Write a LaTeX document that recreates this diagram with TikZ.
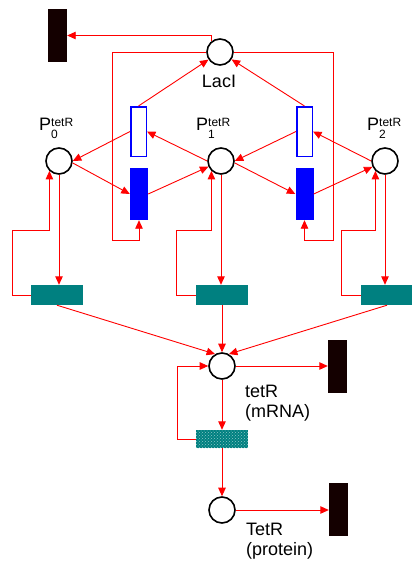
\documentclass[tikz,border=0pt]{standalone}
\usepackage{fontspec}
\setmainfont{Liberation Sans}
\usepackage{tikz}
\usetikzlibrary{arrows.meta, positioning, patterns}

\newcommand{\tetplace}[1]{P\rlap{\raisebox{-8pt}{\fontsize{12}{12}\selectfont #1}}\raisebox{3.5pt}{\fontsize{12}{12}\selectfont tetR}}

\tikzset{
  place/.style={circle, draw=black, line width=1.6pt, fill=white, minimum size=26pt, inner sep=0pt},
  sink/.style={rectangle, fill=black!92!red, minimum width=19pt, minimum height=53pt, inner sep=0pt},
  unbind/.style={rectangle, draw=blue, line width=1.5pt, fill=white, minimum width=15.5pt, minimum height=49.5pt, inner sep=0pt},
  bind/.style={rectangle, fill=blue, minimum width=18pt, minimum height=52pt, inner sep=0pt},
  expr/.style={rectangle, fill=teal, minimum width=52pt, minimum height=20pt, inner sep=0pt},
  transl/.style={expr, minimum height=18pt, postaction={pattern=crosshatch dots, pattern color=white!55!teal}},
  arc/.style={draw=red, line width=0.9pt, -{Triangle[length=8.5pt,width=7.5pt]}},
  lbl/.style={font=\fontsize{18}{20}\selectfont, inner sep=0pt, align=left}
}

\begin{document}
\begin{tikzpicture}[x=1pt, y=-1pt]
  \useasboundingbox (0,0) rectangle (412,563);

  % places
  \node[place] (lac) at (220,52) {};
  \node[place] (p0) at (59,161) {};
  \node[place] (p1) at (221,161) {};
  \node[place] (p2) at (385,161) {};
  \node[place] (mrna) at (222,366) {};
  \node[place] (prot) at (222,510) {};

  % transitions
  \node[sink] (sinkL) at (57.5,35.5) {};
  \node[sink] (sinkM) at (337.5,366) {};
  \node[sink] (sinkP) at (338.5,509) {};
  \node[unbind] (unbA) at (138.5,131.5) {};
  \node[unbind] (unbB) at (304.5,131.5) {};
  \node[bind] (bindA) at (139,194) {};
  \node[bind] (bindB) at (304.5,194) {};
  \node[expr] (exA) at (57,295) {};
  \node[expr] (exB) at (222,295) {};
  \node[expr] (exC) at (387,295) {};
  \node[transl] (tl) at (222,439) {};

  % labels
  \node[lbl, anchor=base] at (219,87) {LacI};
  \node[lbl, anchor=base west] at (39,130) {\tetplace{0}};
  \node[lbl, anchor=base west] at (196,130) {\tetplace{1}};
  \node[lbl, anchor=base west] at (367,130) {\tetplace{2}};
  \node[lbl, anchor=north west] at (245,385) {tetR\\(mRNA)};
  \node[lbl, anchor=north west] at (246,523) {TetR\\(protein)};

  % corners of the feedback paths
  \coordinate (loopA) at (112,240);
  \coordinate (loopB) at (333,240);
  \coordinate (fbA) at (12,230);
  \coordinate (fbB) at (176,230);
  \coordinate (fbC) at (341,230);
  \coordinate (fbM) at (177,366);

  % LacI
  \draw[arc] (lac.128) |- (sinkL.east);
  \draw[arc] (lac.west) -| (loopA) -| (bindA.south);
  \draw[arc] (lac.east) -| (loopB) -| (bindB.south);
  \draw[arc] (unbA.north) -- (lac);
  \draw[arc] (unbB.north) -- (lac);

  % promoter states
  \draw[arc] (unbA.west) -- (p0.east);
  \draw[arc] (p1.west) -- (unbA.east);
  \draw[arc] (unbB.west) -- (p1.east);
  \draw[arc] (p2.west) -- (unbB.east);
  \draw[arc] (p0.-8) -- (bindA.west);
  \draw[arc] (bindA.east) -- (p1);
  \draw[arc] (p1.-8) -- (bindB.west);
  \draw[arc] (bindB.east) -- (p2);

  % transcription
  \draw[arc] (p0.south) -- (p0.south |- exA.north);
  \draw[arc] (p1.south) -- (p1.south |- exB.north);
  \draw[arc] (p2.south) -- (p2.south |- exC.north);
  \draw[arc] (exA.west) -| (fbA) -| (p0.226);
  \draw[arc] (exB.west) -| (fbB) -| (p1.226);
  \draw[arc] (exC.west) -| (fbC) -| (p2.226);
  \draw[arc] (exA.south) -- (mrna.120);
  \draw[arc] (exB.south) -- (mrna.north);
  \draw[arc] (exC.south) -- (mrna.60);

  % mRNA and protein
  \draw[arc] (mrna.east) -- (sinkM.west);
  \draw[arc] (mrna.south) -- (tl.north);
  \draw[arc] (tl.west) -| (fbM) -- (mrna.west);
  \draw[arc] (tl.south) -- (prot.north);
  \draw[arc] (prot.east) -- (prot.east -| sinkP.west);
\end{tikzpicture}
\end{document}
